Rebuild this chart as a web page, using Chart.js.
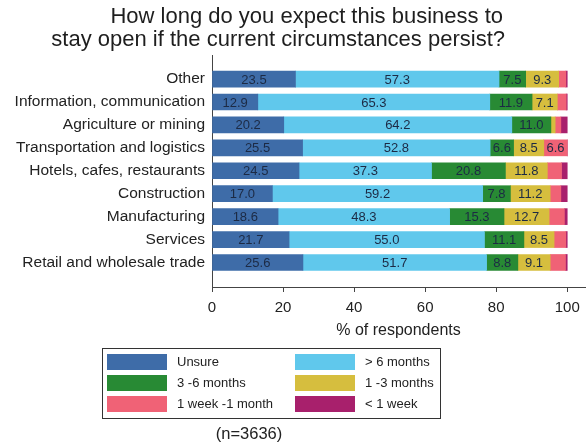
<!DOCTYPE html>
<html>
<head>
<meta charset="utf-8">
<script src="https://cdn.jsdelivr.net/npm/chart.js@4/dist/chart.umd.min.js"></script>
<style>
  html, body { margin: 0; padding: 0; background: #fff; }
  #wrap { width: 588px; height: 444px; position: relative; }
</style>
</head>
<body>
<div id="wrap"><canvas id="stayOpenChart" width="588" height="444"></canvas></div>
<script>
const FONT = "'Liberation Sans', Arial, sans-serif";

const sectors = [
  "Other",
  "Information, communication",
  "Agriculture or mining",
  "Transportation and logistics",
  "Hotels, cafes, restaurants",
  "Construction",
  "Manufacturing",
  "Services",
  "Retail and wholesale trade",
];

const unsure = [23.5, 12.9, 20.2, 25.5, 24.5, 17.0, 18.6, 21.7, 25.6];
const over6Months = [57.3, 65.3, 64.2, 52.8, 37.3, 59.2, 48.3, 55.0, 51.7];
const months3to6 = [7.5, 11.9, 11.0, 6.6, 20.8, 7.8, 15.3, 11.1, 8.8];
const months1to3 = [9.3, 7.1, 1.2, 8.5, 11.8, 11.2, 12.7, 8.5, 9.1];
const week1toMonth = [2.0, 2.5, 1.6, 6.6, 4.0, 3.0, 4.3, 3.3, 4.3];
const under1Week = [0.4, 0.3, 1.8, 0.0, 1.6, 1.8, 0.8, 0.4, 0.5];

const xTicks = [0, 20, 40, 60, 80, 100];

const series = [
  { label: "Unsure", data: unsure, color: "rgb(62,108,168)" },
  { label: "> 6 months", data: over6Months, color: "rgb(96,200,236)" },
  { label: "3 -6 months", data: months3to6, color: "rgb(40,138,52)" },
  { label: "1 -3 months", data: months1to3, color: "rgb(214,190,62)" },
  { label: "1 week -1 month", data: week1toMonth, color: "rgb(240,98,118)" },
  { label: "< 1 week", data: under1Week, color: "rgb(168,32,108)" },
];

const datasets = series.map((s) => ({
  label: s.label,
  data: s.data.map((v, i) => ({ x: v, y: i })),
  backgroundColor: s.color,
  borderWidth: 0,
  barThickness: 16,
}));

// value labels inside the segments
const segmentLabels = {
  id: "segmentLabels",
  afterDatasetsDraw(chart) {
    const ctx = chart.ctx;
    ctx.save();
    ctx.font = "13px " + FONT;
    ctx.fillStyle = "#1c2a44";
    ctx.textAlign = "center";
    ctx.textBaseline = "middle";
    chart.data.datasets.forEach((ds, di) => {
      const meta = chart.getDatasetMeta(di);
      meta.data.forEach((el, i) => {
        const v = ds.data[i].x;
        if (v < 5) return;
        ctx.fillText(v.toFixed(1), (el.x + el.base) / 2, el.y + 1);
      });
    });
    ctx.restore();
  },
};

// title, boxed legend and sample size
const extras = {
  id: "extras",
  afterDraw(chart) {
    const ctx = chart.ctx;
    ctx.save();
    ctx.fillStyle = "#1e1e1e";
    ctx.font = "22px " + FONT;
    ctx.textAlign = "right";
    ctx.textBaseline = "middle";
    ctx.fillText("How long do you expect this business to", 503, 17);
    ctx.fillText("stay open if the current circumstances persist?", 505, 40);

    // legend box
    ctx.strokeStyle = "#333";
    ctx.lineWidth = 1;
    ctx.strokeRect(102.5, 348.5, 338, 70);
    ctx.font = "13px " + FONT;
    ctx.textAlign = "left";
    series.forEach((s, k) => {
      const col = k % 2;
      const row = Math.floor(k / 2);
      const sx = col === 0 ? 107 : 295;
      const cy = 362 + row * 21;
      ctx.fillStyle = s.color;
      ctx.fillRect(sx, cy - 8, 60, 16);
      ctx.fillStyle = "#222";
      ctx.fillText(s.label, sx + 70, cy);
    });

    ctx.font = "16.5px " + FONT;
    ctx.textAlign = "center";
    ctx.fillText("(n=3636)", 249, 434);
    ctx.restore();
  },
};

const ctx = document.getElementById("stayOpenChart").getContext("2d");
const stayOpenChart = new Chart(ctx, {
  type: "bar",
  data: { datasets: datasets },
  plugins: [segmentLabels, extras],
  options: {
    indexAxis: "y",
    responsive: false,
    animation: false,
    layout: { padding: { top: 55, right: 3, bottom: 104, left: 0 } },
    plugins: {
      legend: { display: false },
      tooltip: { enabled: false },
    },
    scales: {
      x: {
        type: "linear",
        stacked: true,
        min: 0,
        max: 105,
        afterBuildTicks: (scale) => {
          scale.ticks = xTicks.map((v) => ({ value: v }));
        },
        afterFit: (scale) => {
          scale.height = 53;
        },
        border: { display: true, color: "#444", width: 1 },
        grid: {
          drawOnChartArea: false,
          drawTicks: true,
          tickLength: 5,
          color: "#444",
        },
        ticks: {
          padding: 7,
          color: "#222",
          font: { family: FONT, size: 15 },
        },
        title: {
          display: true,
          text: "% of respondents",
          color: "#222",
          font: { family: FONT, size: 16 },
          padding: { top: 4, bottom: 0 },
        },
      },
      y: {
        type: "linear",
        stacked: true,
        reverse: true,
        offset: false,
        min: -1.05,
        max: 9.07,
        afterBuildTicks: (scale) => {
          scale.ticks = sectors.map((_, i) => ({ value: i }));
        },
        afterFit: (scale) => {
          scale.width = 212;
        },
        border: { display: true, color: "#444", width: 1 },
        grid: { display: false, drawTicks: false, tickLength: 0, offset: false },
        ticks: {
          padding: 7,
          color: "#222",
          font: { family: FONT, size: 15.5 },
          callback: (v) => sectors[v],
        },
      },
    },
  },
});
</script>
</body>
</html>
